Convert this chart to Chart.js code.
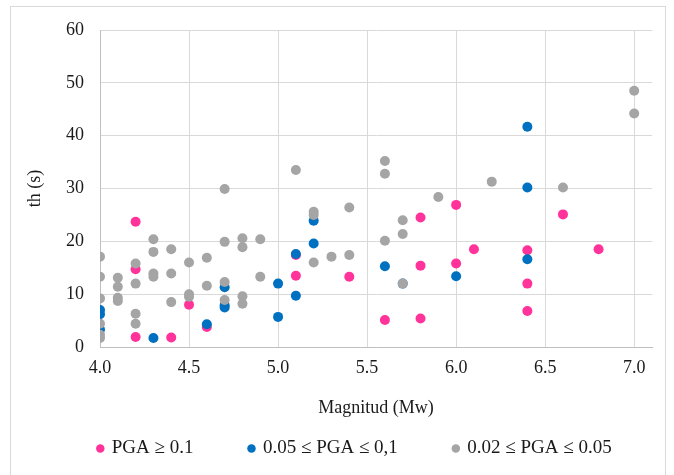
<!DOCTYPE html>
<html>
<head>
<meta charset="utf-8">
<script src="https://cdn.jsdelivr.net/npm/chart.js@4"></script>
<style>
  body{margin:0;background:#fff}
  #wrap{position:relative;width:674px;height:475px}
  #frame{position:absolute;left:10px;top:6px;width:656px;height:480px;border:1px solid #d9d9d9;box-sizing:border-box}
  #c{position:absolute;left:0;top:0}
</style>
</head>
<body>
<div id="wrap"><div id="frame"></div><canvas id="c" width="674" height="475"></canvas></div>
<script>
// series labels
const seriesNames = ['PGA \u2265 0.1', '0.05 \u2264 PGA \u2264 0,1', '0.02 \u2264 PGA \u2264 0.05'];
const seriesColors = ['#FF3399', '#0070C0', '#A5A5A5'];

// PGA >= 0.1
const highMw = [4.2, 4.2, 4.2, 4.4, 4.5, 4.6, 5.1, 5.1, 5.4, 5.6, 5.8, 5.8, 5.8, 6.0, 6.0, 6.1, 6.4, 6.4, 6.4, 6.6, 6.8];
const highTh = [23.7, 14.7, 1.9, 1.8, 8.0, 3.8, 17.4, 13.5, 13.3, 5.1, 24.5, 15.4, 5.4, 26.9, 15.8, 18.5, 18.3, 12.0, 6.8, 25.1, 18.5];

// 0.05 <= PGA <= 0.1
const midMw = [4.0, 4.0, 4.0, 4.3, 4.6, 4.7, 4.7, 4.7, 5.0, 5.0, 5.1, 5.1, 5.2, 5.2, 5.6, 5.7, 6.0, 6.4, 6.4, 6.4];
const midTh = [7.0, 6.2, 3.3, 1.7, 4.3, 11.3, 7.9, 7.5, 12.0, 5.7, 17.6, 9.7, 23.9, 19.6, 15.3, 12.0, 13.4, 41.7, 30.2, 16.6];

// 0.02 <= PGA <= 0.05
const lowMw = [4.0, 4.0, 4.0, 4.0, 4.0, 4.0,
  4.1, 4.1, 4.1, 4.1,
  4.2, 4.2, 4.2, 4.2,
  4.3, 4.3, 4.3, 4.3,
  4.4, 4.4, 4.4,
  4.5, 4.5, 4.5,
  4.6, 4.6,
  4.7, 4.7, 4.7, 4.7,
  4.8, 4.8, 4.8, 4.8,
  4.9, 4.9,
  5.1, 5.2, 5.2, 5.2, 5.3, 5.4, 5.4,
  5.6, 5.6, 5.6, 5.7, 5.7, 5.7, 5.9, 6.2, 6.6, 7.0, 7.0];
const lowTh = [17.1, 13.3, 9.2, 4.4, 2.3, 1.7,
  13.1, 11.4, 9.3, 8.7,
  15.8, 12.0, 6.3, 4.4,
  20.4, 18.0, 13.9, 13.3,
  18.5, 13.9, 8.5,
  16.0, 10.0, 9.5,
  16.9, 11.6,
  29.9, 19.9, 12.3, 8.9,
  20.6, 18.9, 9.6, 8.2,
  20.4, 13.3,
  33.5, 25.6, 25.0, 16.0, 17.1, 26.4, 17.4,
  35.2, 32.8, 20.1, 24.0, 21.4, 12.0, 28.4, 31.3, 30.2, 48.5, 44.2];

const xTicksStep = 0.5;
const yTicksStep = 10;

function pts(xs, ys){ return xs.map((x, i) => ({x: x, y: ys[i]})); }

const serif = '"Liberation Serif", "Times New Roman", serif';
const txt = '#1a1a1a';
const gridCol = '#d9d9d9';
const axisCol = '#bfbfbf';

const ctx = document.getElementById('c').getContext('2d');
new Chart(ctx, {
  type: 'scatter',
  data: {
    datasets: [
      { label: seriesNames[0], data: pts(highMw, highTh), backgroundColor: seriesColors[0], order: 3 },
      { label: seriesNames[1], data: pts(midMw, midTh), backgroundColor: seriesColors[1], order: 2 },
      { label: seriesNames[2], data: pts(lowMw, lowTh), backgroundColor: seriesColors[2], order: 1 }
    ]
  },
  options: {
    responsive: false,
    animation: false,
    // right side kept free by the x scale's own padding (see afterFit) so the legend gets full width
    layout: { padding: { left: 36, right: 0, top: 30, bottom: 7 } },
    elements: { point: { radius: 5, hoverRadius: 5, borderWidth: 0, pointStyle: 'circle' } },
    plugins: {
      tooltip: { enabled: false },
      legend: {
        position: 'bottom',
        labels: {
          usePointStyle: true, pointStyle: 'circle', boxWidth: 4, boxHeight: 6, padding: 56,
          color: txt, font: { family: serif, size: 19 },
          sort: (a, b) => a.datasetIndex - b.datasetIndex
        }
      }
    },
    scales: {
      x: {
        type: 'linear', min: 4, max: 7.1,
        ticks: { stepSize: xTicksStep, includeBounds: false, callback: v => v.toFixed(1), color: txt, font: { family: serif, size: 18 }, padding: 10, maxRotation: 0 },
        grid: { color: gridCol, drawTicks: false },
        border: { color: axisCol },
        title: { display: true, text: 'Magnitud (Mw)', color: txt, font: { family: serif, size: 18 }, padding: { top: 0, bottom: -36 } },
        afterFit: s => { s.height = 36; s.paddingRight = 22; }
      },
      y: {
        min: 0, max: 60,
        ticks: { stepSize: yTicksStep, color: txt, font: { family: serif, size: 18 }, padding: 16 },
        grid: { color: gridCol, drawTicks: false },
        border: { color: axisCol },
        title: { display: true, text: 'th (s)', color: txt, font: { family: serif, size: 18 }, padding: { top: -12, bottom: 0 } },
        afterFit: s => { s.width = 64; }
      }
    }
  }
});
</script>
</body>
</html>
